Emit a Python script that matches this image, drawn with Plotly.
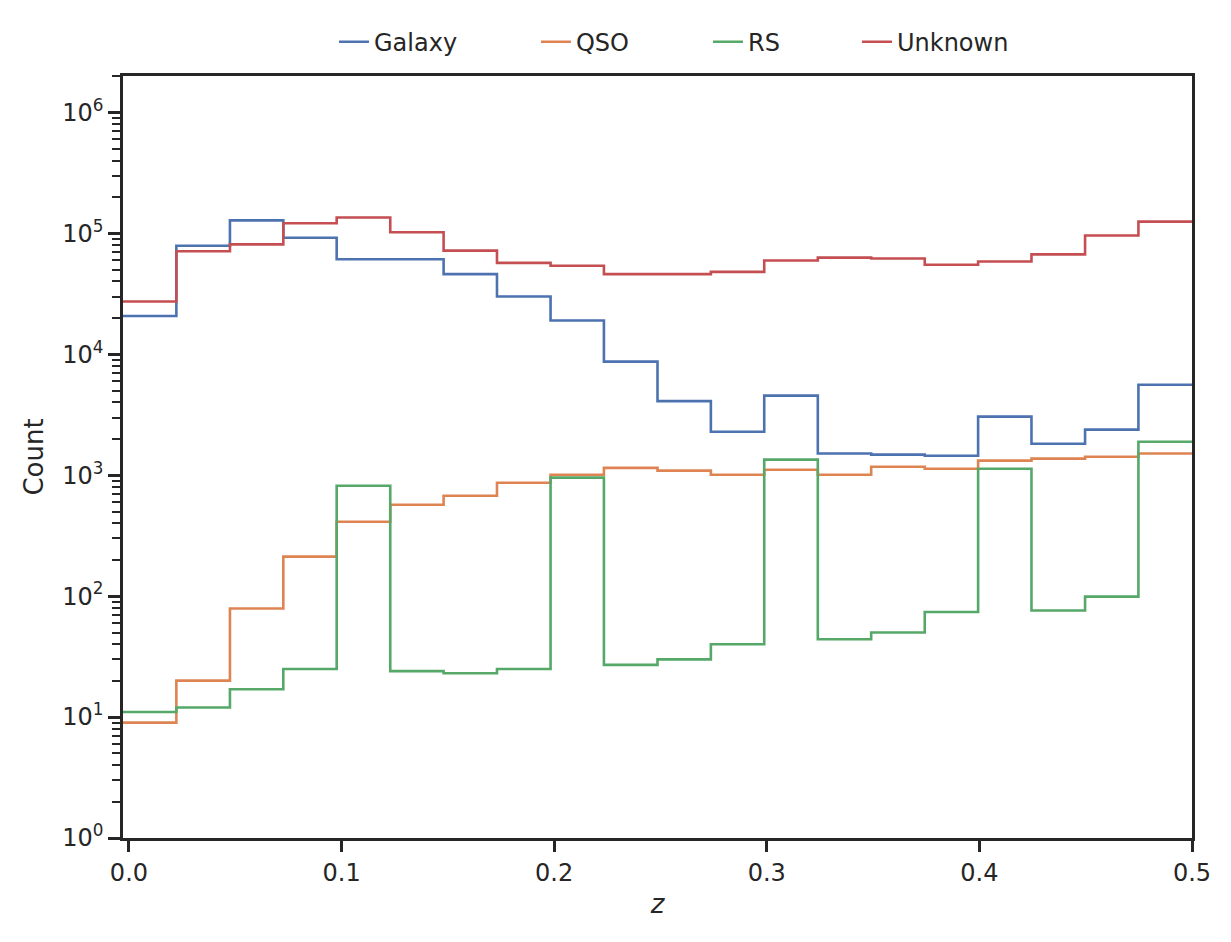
import plotly.graph_objects as go

# bin edges of the redshift histogram
edges = [-0.0028, 0.0223, 0.0475, 0.0726, 0.0977, 0.1229, 0.1480, 0.1731, 0.1983, 0.2234,
         0.2486, 0.2737, 0.2988, 0.3240, 0.3491, 0.3743, 0.3994, 0.4245, 0.4497, 0.4748, 0.5]

# counts per bin
galaxy = [20700, 79000, 128000, 92000, 61000, 61000, 46000, 30000, 19000, 8700,
          4100, 2290, 4550, 1510, 1480, 1450, 3050, 1820, 2380, 5600]
qso = [9, 20, 79, 212, 412, 570, 677, 867, 1010, 1150,
       1090, 1010, 1110, 1010, 1175, 1130, 1320, 1370, 1420, 1510]
rs = [11, 12, 17, 25, 819, 24, 23, 25, 954, 27,
      30, 40, 1344, 44, 50, 74, 1132, 76, 99, 1893]
unknown = [27300, 71000, 81000, 121000, 135000, 102000, 72000, 57000, 54000, 46000,
           46000, 48000, 59600, 63000, 62000, 55000, 58500, 67000, 96000, 125000]

names = ["Galaxy", "QSO", "RS", "Unknown"]
series = [galaxy, qso, rs, unknown]
colors = ["#4C72B0", "#DD8452", "#55A868", "#C44E52"]
legend_x = [0.1974, 0.3863, 0.5472, 0.6866]

ytickvals = [1, 10, 100, 1e3, 1e4, 1e5, 1e6]
yticktext = ["10<sup>%d</sup>" % i for i in range(7)]
yminor = [m * 10 ** d for d in range(7) for m in range(2, 10) if m * 10 ** d <= 2e6]

xtickvals = [0, 0.1, 0.2, 0.3, 0.4, 0.5]
xticktext = ["0.0", "0.1", "0.2", "0.3", "0.4", "0.5"]

ink = "#262626"
fig = go.Figure()
for i, (name, vals, col) in enumerate(zip(names, series, colors)):
    lg = "legend" if i == 0 else "legend%d" % (i + 1)
    fig.add_trace(go.Scatter(
        x=edges, y=vals + [vals[-1]], name=name, mode="lines", showlegend=True,
        line=dict(shape="hv", color=col, width=2.6), legend=lg
    ))
    fig.update_layout({lg: dict(orientation="h", x=legend_x[i], xanchor="left",
                                y=1.0445, yanchor="middle", font=dict(size=24),
                                bgcolor="rgba(0,0,0,0)")})

# page body adds an 8px margin, so the figure is 8px smaller than the window
fig.update_layout(
    width=1223, height=934, showlegend=True,
    paper_bgcolor="white", plot_bgcolor="white",
    margin=dict(l=115, r=39, t=66, b=104),
    font=dict(family="DejaVu Sans", color=ink, size=24),
)
fig.update_xaxes(
    range=[-0.0028, 0.5], tickvals=xtickvals, ticktext=xticktext,
    tickfont=dict(size=24),
    showline=True, mirror=True, linecolor=ink, linewidth=2.5,
    ticks="outside", ticklen=11, tickwidth=2.5, tickcolor=ink,
    showgrid=False, zeroline=False,
    title=dict(text="<i>z</i>", font=dict(size=26), standoff=10),
)
fig.update_yaxes(
    type="log", range=[0, 6.301], tickvals=ytickvals, ticktext=yticktext,
    tickfont=dict(size=24),
    showline=True, mirror=True, linecolor=ink, linewidth=2.5,
    ticks="outside", ticklen=12, tickwidth=2.5, tickcolor=ink,
    minor=dict(tickmode="array", tickvals=yminor, ticks="outside", ticklen=8,
               tickwidth=2, tickcolor=ink, showgrid=False),
    showgrid=False, zeroline=False,
    title=dict(text="Count", font=dict(size=26), standoff=12),
)

fig.write_html("out.html")
